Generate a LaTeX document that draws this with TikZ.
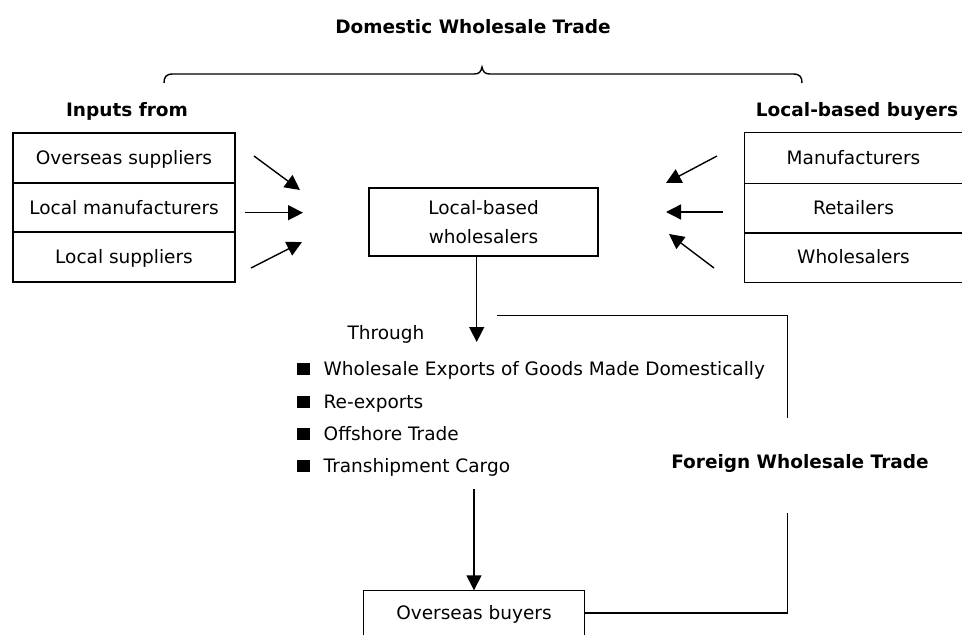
\documentclass[tikz,border=0pt]{standalone}
\usepackage{fontspec}
\setmainfont{DejaVu Sans}
\usetikzlibrary{arrows.meta}
\begin{document}
\begin{tikzpicture}[x=1pt,y=-1pt,line width=1.4pt,
  every node/.style={font=\fontsize{18.5}{22}\selectfont, inner sep=0pt},
  hdr/.style={font=\fontsize{18.5}{22}\selectfont\bfseries, text height=13.5pt, text depth=0pt},
  txt/.style={text height=13.5pt, text depth=0pt},
  box/.style={draw, txt, minimum width=222.3pt, minimum height=49.7pt},
  openbox/.style={txt, minimum width=217pt, minimum height=49.7pt},
  sq/.style={fill=black, minimum size=12.5pt},
  arr/.style={-{Triangle[length=15pt,width=15pt]}}
]
\useasboundingbox (0,0) rectangle (962,635);

% headings
\node[hdr] (title) at (473,27) {Domestic Wholesale Trade};
\node[hdr] (inputs) at (127,110) {Inputs from};
\node[hdr] (buyers) at (857,110) {Local-based buyers};
\node[hdr] (fwt) at (800,462) {Foreign Wholesale Trade};

% brace
\draw (164,83) .. controls (164,77) and (166,74) .. (173,74) -- (474,74)
  .. controls (479,74) and (481,72) .. (482,67)
  .. controls (483,72) and (485,74) .. (490,74) -- (793,74)
  .. controls (800,74) and (802,77) .. (802,83);

% left boxes
\node[box] (ls1) at (124,158) {Overseas suppliers};
\node[box] (ls2) at (124,207.5) {Local manufacturers};
\node[box] (ls3) at (124,257) {Local suppliers};

% right boxes (open on the right)
\node[openbox] (rb1) at (853.5,158) {Manufacturers};
\node[openbox] (rb2) at (853.5,207.5) {Retailers};
\node[openbox] (rb3) at (853.5,257) {Wholesalers};
\draw (rb1.north east) -- (rb1.north west) -- (rb3.south west) -- (rb3.south east);
\draw (rb1.south west) -- (rb1.south east);
\draw (rb2.south west) -- (rb2.south east);

% centre box
\node[draw, align=center, minimum width=229pt, minimum height=67.7pt,
      font=\fontsize{18.5}{29}\selectfont] (lbw) at (483.5,222) {Local-based\\wholesalers};

% left arrows
\coordinate (la1s) at (254,156); \coordinate (la1e) at (300,190);
\coordinate (la2s) at (245,212.7); \coordinate (la2e) at (303,212.7);
\coordinate (la3s) at (251,268); \coordinate (la3e) at (302,242);
\draw[arr] (la1s) -- (la1e);
\draw[arr] (la2s) -- (la2e);
\draw[arr] (la3s) -- (la3e);

% right arrows
\coordinate (ra1s) at (717,156); \coordinate (ra1e) at (666,183);
\coordinate (ra2s) at (723,212); \coordinate (ra2e) at (666,212);
\coordinate (ra3s) at (714,268); \coordinate (ra3e) at (669,234);
\draw[arr] (ra1s) -- (ra1e);
\draw[arr] (ra2s) -- (ra2e);
\draw[arr] (ra3s) -- (ra3e);

% through + bullets
\coordinate (tip1) at (476.7,342);
\draw[arr] (tip1 |- lbw.south) -- (tip1);
\node[txt] (through) at (386,333) {Through};

\node[sq] (b1) at (303.5,369) {};
\node[sq] (b2) at (303.5,402) {};
\node[sq] (b3) at (303.5,434) {};
\node[sq] (b4) at (303.5,466) {};
\node[txt, anchor=west] (i1) at (323,368.5) {Wholesale Exports of Goods Made Domestically};
\node[txt, anchor=west] (i2) at (323,402) {Re-exports};
\node[txt, anchor=west] (i3) at (323,433.7) {Offshore Trade};
\node[txt, anchor=west] (i4) at (323,465.5) {Transhipment Cargo};

% overseas buyers
\node[txt, minimum width=220pt, minimum height=44pt] (ob) at (474,613) {Overseas buyers};
\draw (ob.south west) -- (ob.north west) -- (ob.north east) -- (ob.south east);
\coordinate (a2s) at (474,489);
\draw[arr] (a2s) -- (ob.north);

% foreign wholesale trade connector
\coordinate (c1) at (497,315.7);
\coordinate (c3) at (787.5,417.7);
\coordinate (c4) at (787.5,513);
\draw (c1) -| (c3);
\draw (ob.east) -| (c4);
\end{tikzpicture}
\end{document}
